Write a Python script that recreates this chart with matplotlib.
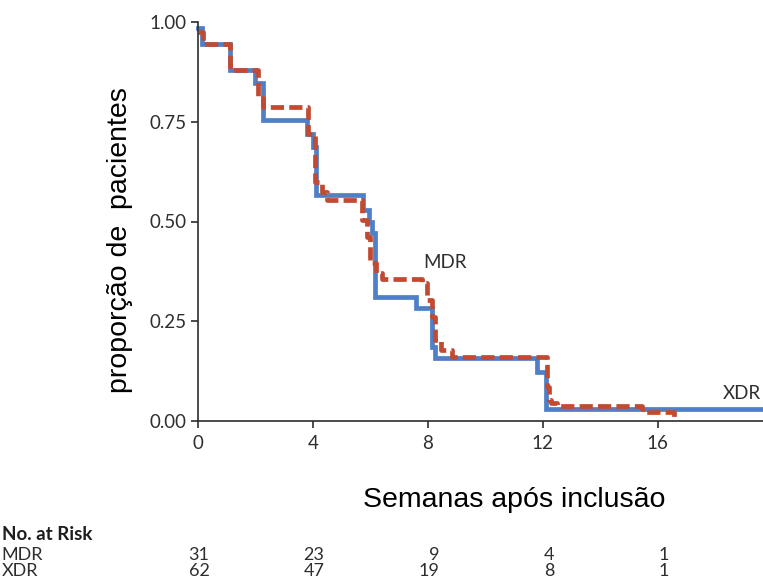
import matplotlib
matplotlib.use("Agg")
import matplotlib.pyplot as plt
from matplotlib.transforms import blended_transform_factory

# Kaplan-Meier style steps
xdr_t = [0, 0.15, 1.1, 1.98, 2.27, 3.8, 4.0, 4.1, 5.75, 5.95, 6.07, 6.17, 7.57, 8.15, 8.25, 11.8, 12.1, 19.7]
xdr_s = [0.984, 0.944, 0.88, 0.847, 0.754, 0.72, 0.687, 0.566, 0.53, 0.50, 0.47, 0.312, 0.284, 0.186, 0.158, 0.123, 0.03, 0.03]

mdr_t = [0, 0.17, 1.1, 2.1, 2.27, 3.83, 4.07, 4.3, 4.5, 5.7, 5.88, 6.0, 6.2, 6.4, 7.8, 7.97, 8.15,
         8.25, 8.45, 8.83, 12.13, 12.2, 12.3, 12.5, 15.45, 15.6, 16.55]
mdr_s = [0.975, 0.944, 0.88, 0.81, 0.787, 0.72, 0.60, 0.575, 0.553, 0.503, 0.46, 0.395, 0.37, 0.355, 0.345,
         0.303, 0.26, 0.203, 0.178, 0.16, 0.085, 0.053, 0.045, 0.037, 0.03, 0.022, 0.0]

weeks = [0, 4, 8, 12, 16]
risk_mdr = [31, 23, 9, 4, 1]
risk_xdr = [62, 47, 19, 8, 1]

blue = "#4f7fc6"
red = "#c24a30"
grey = "#2e2e2e"
tfont = "Lato"

fig = plt.figure(figsize=(7.63, 5.8), dpi=100)
ax = fig.add_axes([198 / 763, 1 - 421 / 580, 1 - 198 / 763, (421 - 22) / 580])

ax.plot(xdr_t, xdr_s, drawstyle="steps-post", color=blue, lw=3.4, solid_joinstyle="miter")
ax.plot(mdr_t, mdr_s, drawstyle="steps-post", color=red, lw=3.4, dashes=(2.8, 1.1))

ax.set_xlim(0, 19.66)
ax.set_ylim(0, 1.0)
ax.set_xticks(weeks)
ax.set_yticks([0, 0.25, 0.5, 0.75, 1.0])
ax.set_yticklabels(["0.00", "0.25", "0.50", "0.75", "1.00"])
for s in ["top", "right"]:
    ax.spines[s].set_visible(False)
for s in ["left", "bottom"]:
    ax.spines[s].set_color(grey)
    ax.spines[s].set_linewidth(1.2)
ax.tick_params(direction="out", length=5, width=1.2, color=grey, labelcolor=grey, labelsize=13.5)
ax.tick_params(axis="x", pad=5)
ax.tick_params(axis="y", pad=3)
for lab in ax.get_xticklabels() + ax.get_yticklabels():
    lab.set_family(tfont)
for ln in ax.lines:
    ln.set_clip_on(False)

ax.text(7.83, 0.396, "MDR", fontsize=13.5, color=grey, family=tfont, va="center", ha="left")
ax.text(19.6, 0.068, "XDR", fontsize=13.5, color=grey, family=tfont, va="center", ha="right")

fig.text(120 / 763, 1 - 240 / 580, "proporção de  pacientes", rotation=90, fontsize=20.5,
         family="Liberation Sans", ha="center", va="center")
fig.text(514 / 763, 1 - 500 / 580, "Semanas após inclusão", fontsize=20.5,
         family="Liberation Sans", ha="center", va="center")

# number at risk table
tr = blended_transform_factory(ax.transData, fig.transFigure)
fig.text(0.002, 1 - 534 / 580, "No. at Risk", fontsize=13.5, fontweight="bold", family=tfont,
         color="#1e1e1e", va="center")
fig.text(0.002, 1 - 555 / 580, "MDR", fontsize=13, family=tfont, color=grey, va="center")
fig.text(0.002, 1 - 571 / 580, "XDR", fontsize=13, family=tfont, color=grey, va="center")
for w, a, b in zip(weeks, risk_mdr, risk_xdr):
    ax.text(w + 0.4, 1 - 555 / 580, str(a), transform=tr, ha="right", va="center",
            fontsize=13, family=tfont, color=grey)
    ax.text(w + 0.4, 1 - 571 / 580, str(b), transform=tr, ha="right", va="center",
            fontsize=13, family=tfont, color=grey)

fig.savefig("out.png", dpi=100)
